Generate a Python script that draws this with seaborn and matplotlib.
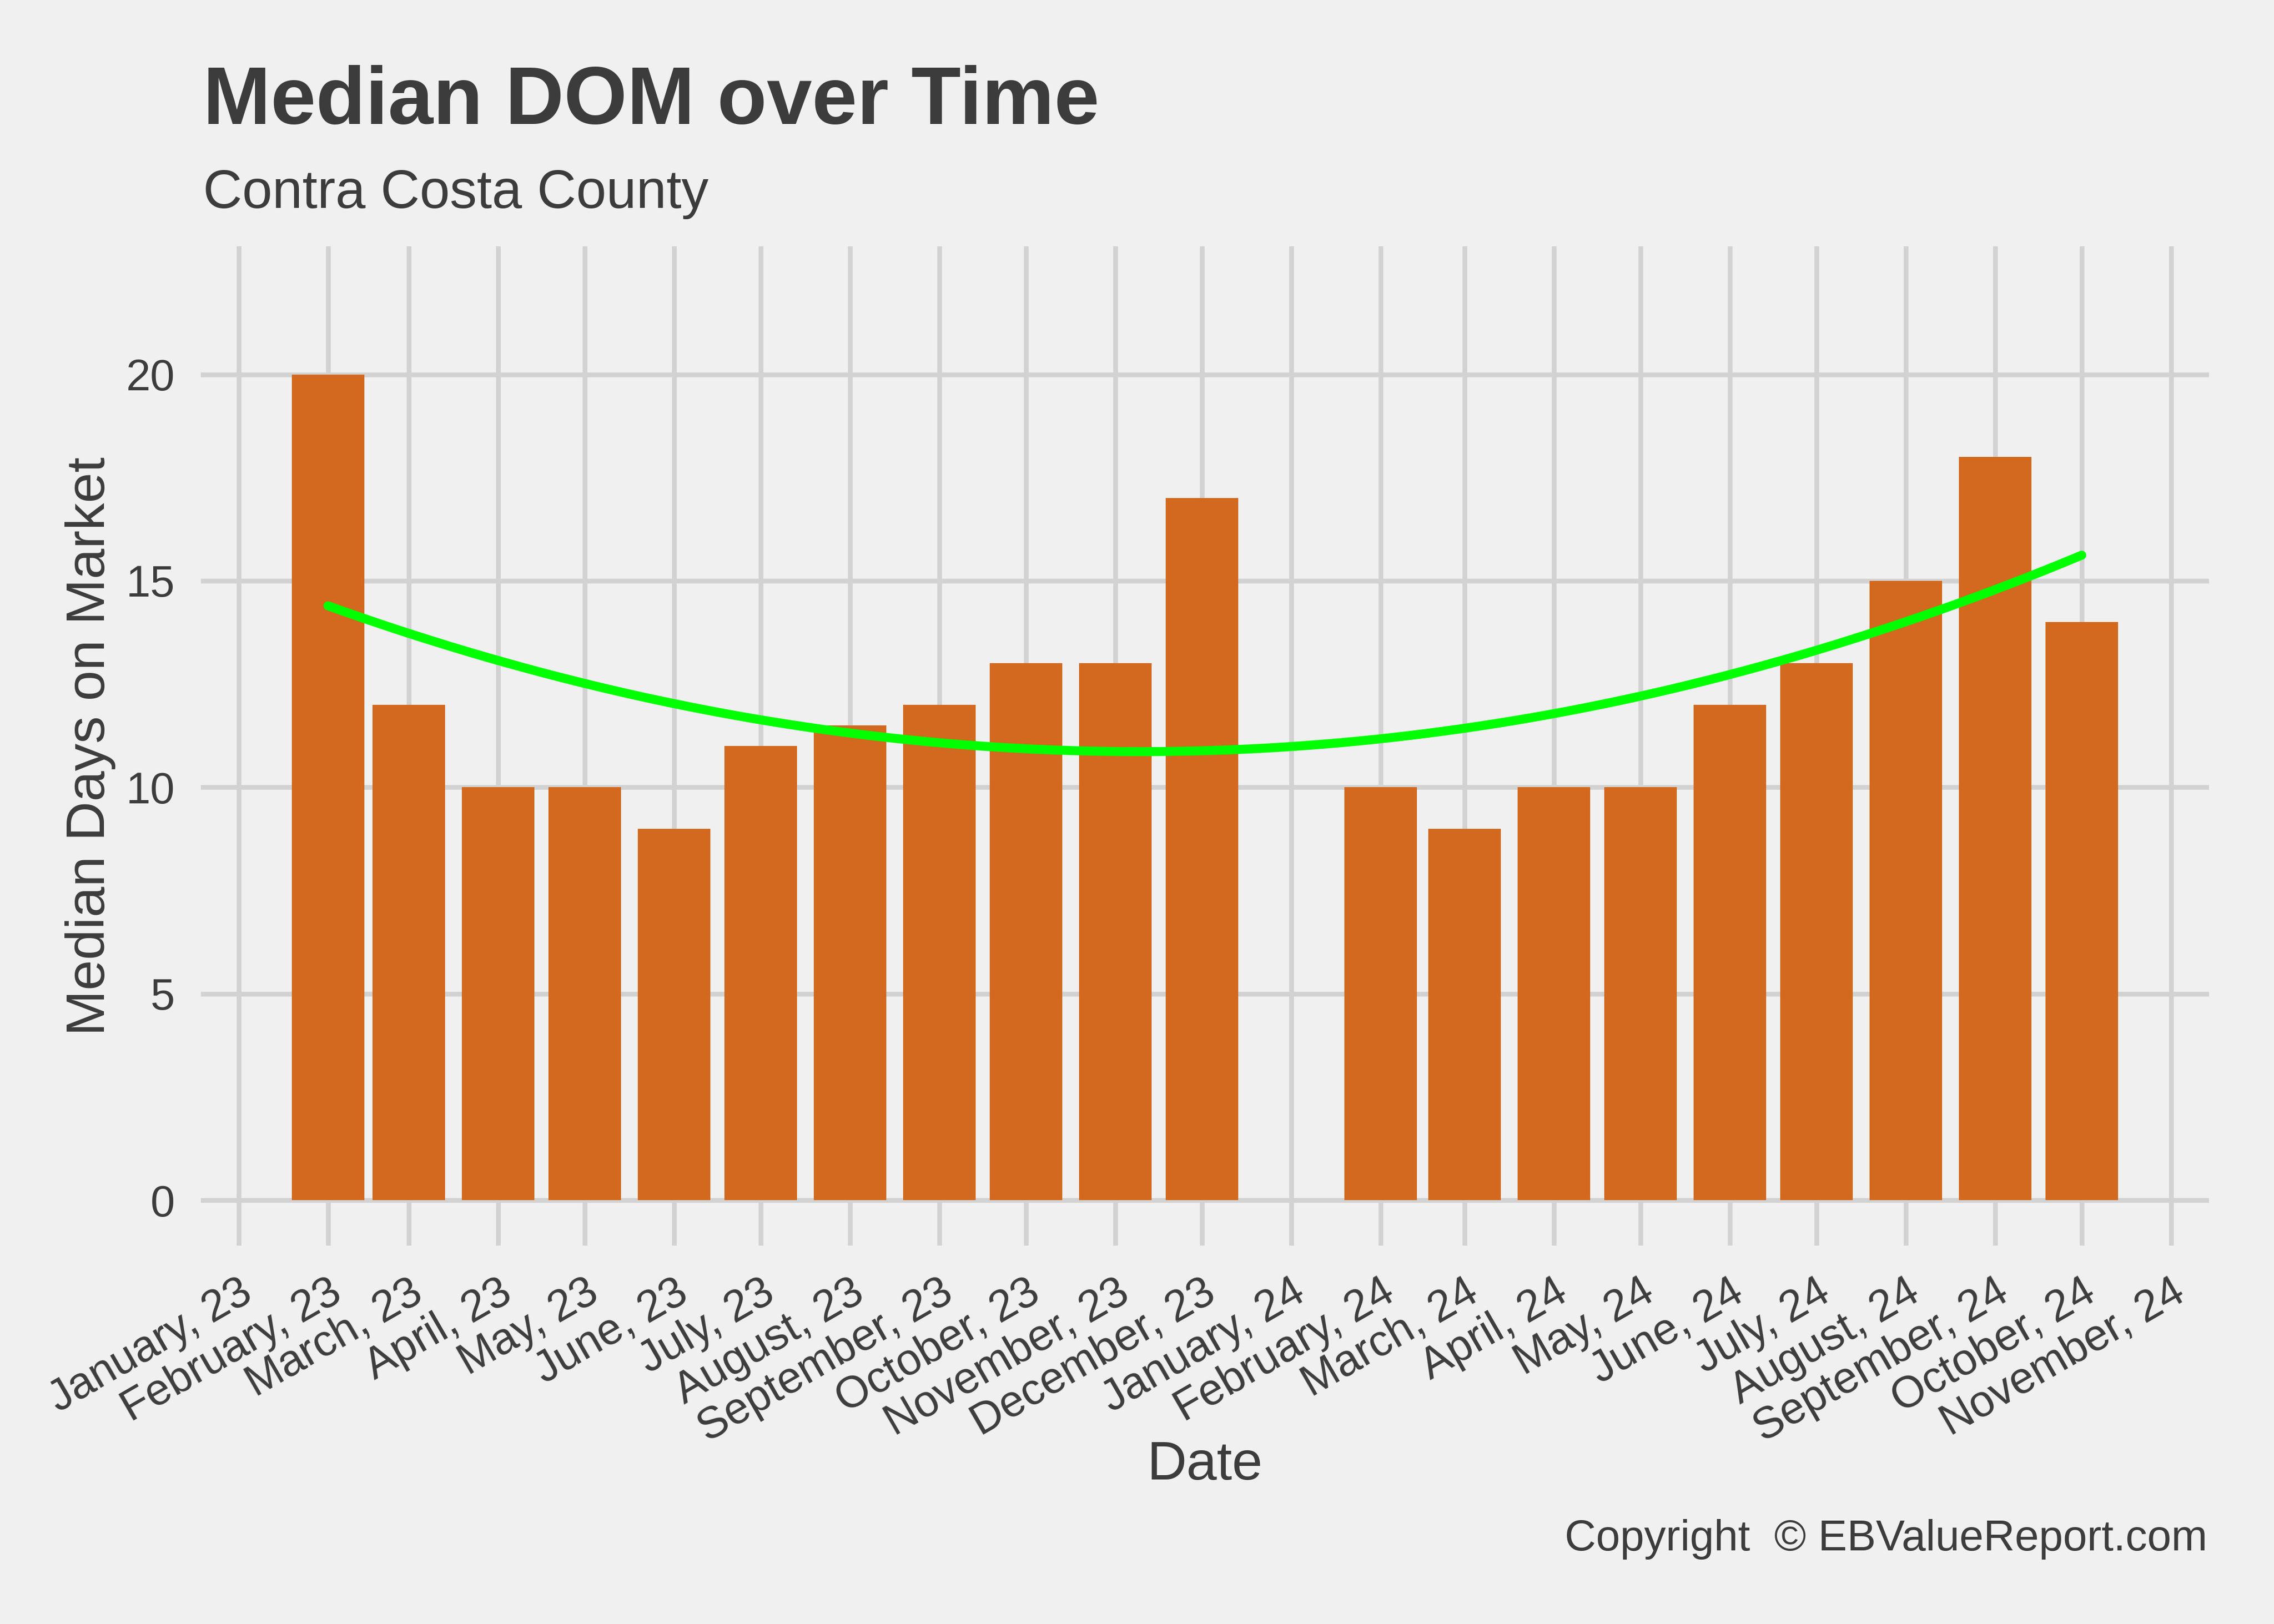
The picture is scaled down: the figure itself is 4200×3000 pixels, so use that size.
import numpy as np
import pandas as pd
import matplotlib
matplotlib.use("Agg")
import matplotlib.pyplot as plt
import seaborn as sns

# --- dados ---
months = ["2023-02-01", "2023-03-01", "2023-04-01", "2023-05-01", "2023-06-01",
          "2023-07-01", "2023-08-01", "2023-09-01", "2023-10-01", "2023-11-01",
          "2023-12-01", "2024-02-01", "2024-03-01", "2024-04-01", "2024-05-01",
          "2024-06-01", "2024-07-01", "2024-08-01", "2024-09-01", "2024-10-01"]
median_dom = [20, 12, 10, 10, 9, 11, 11.5, 12, 13, 13, 17,
              10, 9, 10, 10, 12, 13, 15, 18, 14]
tick_months = pd.date_range("2023-01-01", "2024-11-01", freq="MS")
y_ticks = [0, 5, 10, 15, 20]

title = "Median DOM over Time"
subtitle = "Contra Costa County"
caption = "Copyright  \u00a9 EBValueReport.com"

origin = pd.Timestamp("2023-01-01")
df = pd.DataFrame({"date": pd.to_datetime(months), "dom": median_dom})
df["day"] = (df["date"] - origin).dt.days
tick_days = [(d - origin).days for d in tick_months]
tick_labels = [d.strftime("%B, %y") for d in tick_months]

# --- tema (parecido com fivethirtyeight) ---
bg = "#F0F0F0"
ink = "#3C3C3C"
sns.set_theme(style="whitegrid", rc={
    "axes.facecolor": bg, "figure.facecolor": bg,
    "grid.color": "#D2D2D2", "grid.linewidth": 2.1,
    "text.color": ink, "axes.labelcolor": ink,
    "xtick.color": ink, "ytick.color": ink,
})
plt.rcParams["font.family"] = ["Liberation Sans", "DejaVu Sans"]

fig, ax = plt.subplots(figsize=(14, 10), dpi=300)
left, right, bottom, top = 0.0883, 0.9714, 0.233, 0.8483
fig.subplots_adjust(left=left, right=right, bottom=bottom, top=top)

sns.barplot(data=df, x="day", y="dom", native_scale=True, width=0.9,
            color="#D2691E", saturation=1, errorbar=None, linewidth=0, ax=ax)
# curva de tendência (ajuste quadrático)
sns.regplot(data=df, x="day", y="dom", order=2, ci=None, scatter=False,
            color="#00FF00", line_kws={"lw": 4}, ax=ax)

ax.set_xlim(-13.1, tick_days[-1] + 13.1)
ax.set_ylim(-1.1, 23.1)
ax.set_xticks(tick_days)
ax.set_xticklabels(tick_labels)
ax.set_yticks(y_ticks)
ax.grid(True, color="#D2D2D2", lw=2.1)
ax.set_axisbelow(True)
for s in ax.spines.values():
    s.set_visible(False)

ax.tick_params(axis="y", length=0, pad=11.5, labelsize=19.5)
ax.tick_params(axis="x", length=0, pad=11.5, labelsize=19.5)
plt.setp(ax.get_xticklabels(), rotation=30, ha="right", va="top", rotation_mode="anchor")

ax.set_xlabel("Date", fontsize=24.3, va="baseline")
ax.xaxis.set_label_coords(0.5, (0.089 - bottom) / (top - bottom))
ax.set_ylabel("Median Days on Market", fontsize=24.3, va="baseline")
ax.yaxis.set_label_coords((193 / 4200 - left) / (right - left), 0.5)

fig.text(375 / 4200, 1 - 229 / 3000, title, fontsize=36, fontweight="bold", va="baseline", ha="left")
fig.text(375 / 4200, 1 - 384 / 3000, subtitle, fontsize=24, va="baseline", ha="left")
fig.text(4077 / 4200, 1 - 2864 / 3000, caption, fontsize=19.2, va="baseline", ha="right")

fig.savefig("out.png", dpi=300, facecolor=bg)
